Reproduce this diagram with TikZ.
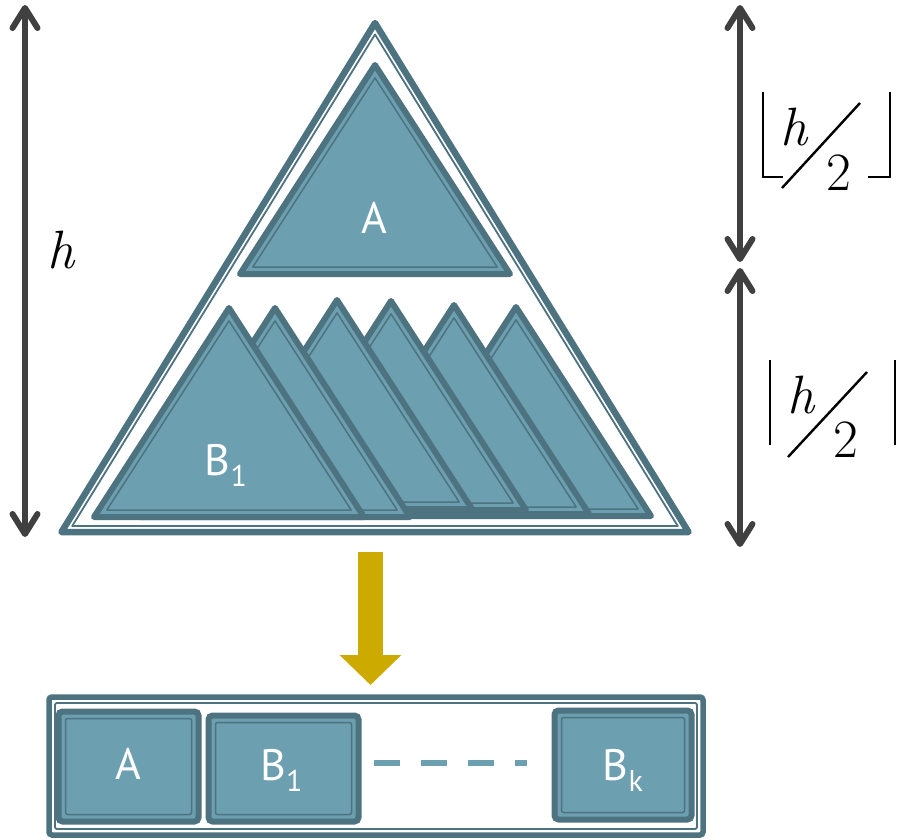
\documentclass[tikz,border=0pt]{standalone}
\usepackage{fontspec}
\setsansfont{PT Sans}
\usetikzlibrary{arrows.meta}
\definecolor{pteal}{HTML}{6C9FAF}
\definecolor{ptealdk}{HTML}{4E7380}
\definecolor{pgold}{HTML}{CCAA00}
\definecolor{pgraydk}{HTML}{404040}
\tikzset{
  % thick-thin outline, as on the slides
  shell/.style      = {draw=ptealdk, fill=white, line width=6.5pt, line join=round},
  shell line/.style = {draw=ptealdk, line width=1.8pt, line join=round},
  tri/.style        = {draw=ptealdk, fill=pteal, line width=6pt, line join=round},
  tri line/.style   = {draw=ptealdk, line width=1.5pt, line join=round},
  cell/.style       = {rectangle, draw=ptealdk, fill=pteal, line width=6pt, rounded corners=4pt,
                       outer sep=0pt, inner sep=0pt},
  cell line/.style  = {draw=ptealdk, line width=1.5pt, rounded corners=2pt},
  frame/.style      = {rectangle, draw=ptealdk, fill=white, line width=5.5pt, rounded corners=3pt,
                       outer sep=0pt, inner sep=0pt},
  lbl/.style        = {text=white, inner sep=0pt, font=\sffamily\fontsize{44}{48}\selectfont},
  mth/.style        = {inner sep=0pt, font=\rmfamily\fontsize{54}{58}\selectfont},
  dim/.style        = {draw=pgraydk, line width=6pt,
                       {Straight Barb[length=20pt,width=25pt,round]}-{Straight Barb[length=20pt,width=25pt,round]}},
  brk/.style        = {draw=black, line width=2.4pt},
  gap/.style        = {draw=pteal, line width=5.5pt, dash pattern=on 26pt off 21pt},
  flow/.style       = {draw=pgold, line width=25pt, -{Triangle[length=30pt,width=60pt]}},
}
% sub-heap: apex x, apex y (width 270, height 209, inradius 73.5)
\newcommand\subtri[2]{%
  \begin{scope}[shift={(#1,#2+209)}]
    \draw[tri] (0,-209) -- (135,0) -- (-135,0) -- cycle;
    \draw[tri line, shift={(0,-73.5)}, scale=0.905, shift={(0,73.5)}]
      (0,-209) -- (135,0) -- (-135,0) -- cycle;
  \end{scope}}
\newcommand\lowidx[1]{\raisebox{-0.27em}{\fontsize{30}{30}\selectfont #1}}

\begin{document}
\begin{tikzpicture}[x=1pt,y=-1pt]
\useasboundingbox (0,0) rectangle (897,839);

% whole heap
\begin{scope}[shift={(375,532)}]
  \draw[shell] (0,-509) -- (313.5,0) -- (-313.5,0) -- cycle;
  \draw[shell line, shift={(0,-175.1)}, scale=0.9657, shift={(0,175.1)}]
    (0,-509) -- (313.5,0) -- (-313.5,0) -- cycle;
\end{scope}

% top part A and the lower sub-heaps, back to front
\subtri{375}{65}
\foreach \ax/\ay in {516/307, 454/305, 391/301, 337/300, 275/308, 229/308}
  \subtri{\ax}{\ay};
\node[lbl, anchor=base] (tA) at (374,233) {A};
\node[lbl, anchor=base] (tB) at (226,475) {B\lowidx{1}};

% heights
\coordinate (htop) at (25,5);
\coordinate (hbot) at (25,537);
\draw[dim] (htop) -- (hbot);
\node[mth, anchor=base] (hlbl) at (62,268) {\textit{h}};

\coordinate (ftop) at (740,5);
\coordinate (fbot) at (740,262);
\coordinate (ctop) at (740,268);
\coordinate (cbot) at (740,547);
\draw[dim] (ftop) -- (fbot);
\draw[dim] (ctop) -- (cbot);

\node[mth, anchor=base] (fh) at (795,145) {\textit{h}};
\node[mth, anchor=base] (f2) at (839,190) {2};
\draw[brk] (763,92) -- (763,177) -- (783,177);
\draw[brk] (868,177) -- (890,177) -- (890,92);
\draw[brk] (782,188) -- (860,103);

\node[mth, anchor=base] (ch) at (802,413) {\textit{h}};
\node[mth, anchor=base] (c2) at (846,457) {2};
\draw[brk] (770,360) -- (770,445);
\draw[brk] (895,360) -- (895,445);
\draw[brk] (788,457) -- (867,372);

% flattened into a list
\coordinate (atop) at (370.5,552);
\coordinate (atip) at (370.5,685);
\draw[flow] (atop) -- (atip);

\node[frame, minimum width=654, minimum height=138] (list) at (376,766) {};
\draw[shell line, rounded corners=2pt] ([shift={(6,6)}]list.north west) rectangle ([shift={(-6,-6)}]list.south east);

\foreach \nm/\cx/\cy/\w/\h in {cA/128.5/766.5/140/110, cB/283.5/768.5/150/106, cK/623/765/137/109}{
  \node[cell, minimum width=\w, minimum height=\h] (\nm) at (\cx,\cy) {};
  \draw[cell line] ([shift={(7,7)}]\nm.north west) rectangle ([shift={(-7,-7)}]\nm.south east);
}
\node[lbl, anchor=base] (lA) at (128,779) {A};
\node[lbl, anchor=base] (lB) at (281.5,780) {B\lowidx{1}};
\node[lbl, anchor=base] (lK) at (623,780) {B\lowidx{k}};

\coordinate (dotsL) at (374,763);
\coordinate (dotsR) at (527,763);
\draw[gap] (dotsL) -- (dotsR);
\end{tikzpicture}
\end{document}
